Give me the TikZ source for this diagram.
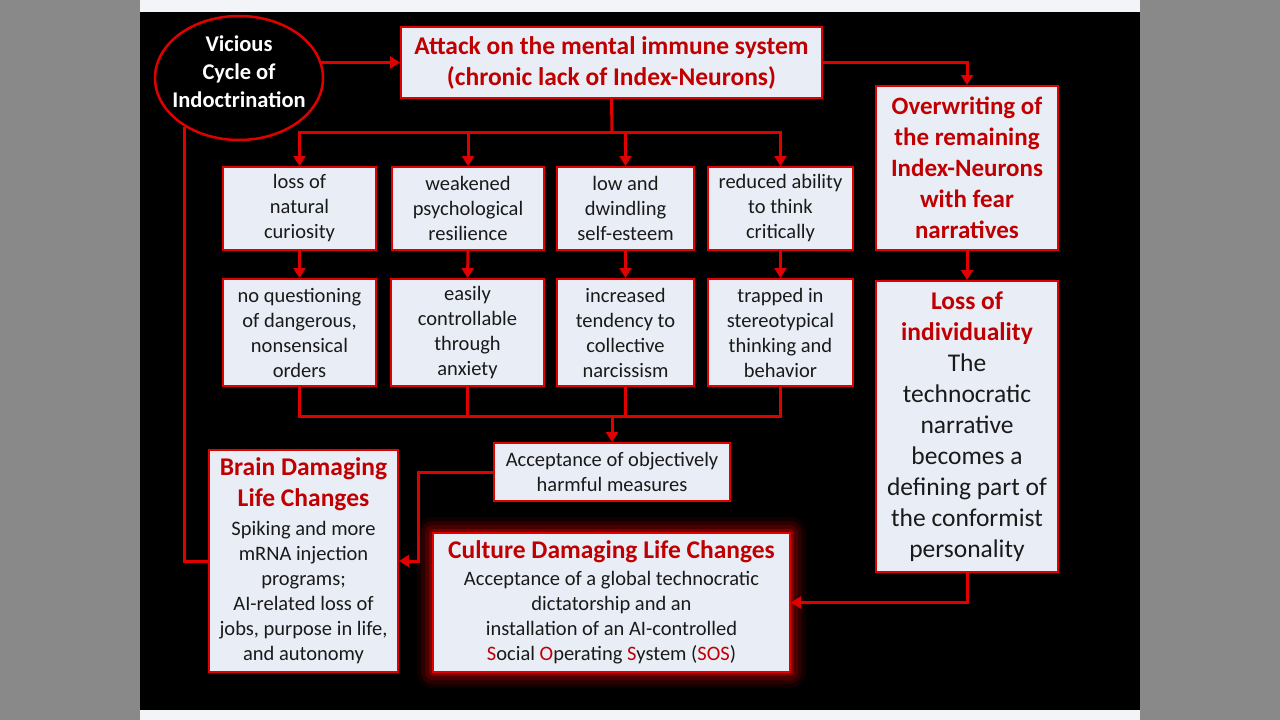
\documentclass[tikz,border=0pt]{standalone}
\usepackage{fontspec}
\setmainfont{Carlito}
\usetikzlibrary{arrows,arrows.meta,shapes.geometric,positioning}
\definecolor{dred}{HTML}{C00000}
\definecolor{linered}{HTML}{E00000}
\definecolor{boxfill}{HTML}{E9EEF6}
\definecolor{txtblack}{HTML}{1A1A1A}
\definecolor{bggray}{HTML}{898989}
\definecolor{stripwhite}{HTML}{F2F4F7}
\newcommand{\ttl}[1]{{\fontsize{25.5}{31}\selectfont\bfseries\color{dred}#1}}
\newcommand{\rd}[1]{\textcolor{dred}{#1}}

\begin{document}
\begin{tikzpicture}
[x=1pt,y=-1pt,
box/.style={draw=linered,fill=boxfill,line width=2pt,inner sep=0pt,align=center,text=txtblack,font=\fontsize{20.5}{25}\selectfont},
wire/.style={draw=linered,line width=3pt},
arr/.style={wire,-{Triangle[length=10pt,width=12pt]}}]
\fill[bggray] (0,0) rectangle (1280,720);
\fill[stripwhite] (140,0) rectangle (1140,720);
\fill[black] (140,12) rectangle (1140,710);

% glow round the culture box
\foreach \g/\o in {16/0.08,12/0.12,8/0.18,4/0.3}
  \fill[linered,opacity=\o,rounded corners=\g pt] (433-\g,533-\g) rectangle (790+\g,672+\g);

\node[ellipse,draw=linered,fill=black,line width=2.5pt,inner sep=0pt,minimum width=168,minimum height=124,
  label={[yshift=6,align=center,text=white,font=\fontsize{22.5}{28}\selectfont\bfseries]center:Vicious\\Cycle of\\Indoctrination}] (vic) at (239,78) {};
\node[box,minimum width=421,minimum height=71,text=dred,font=\fontsize{25.5}{31}\selectfont\bfseries] (att) at (611.5,62.5) {Attack on the mental immune system\\(chronic lack of Index-Neurons)};
\node[box,minimum width=182,minimum height=164,text=dred,font=\fontsize{25}{31}\selectfont\bfseries] (ovr) at (967,168) {Overwriting of\\the remaining\\Index-Neurons\\with fear\\narratives};
\node[box,minimum width=182,minimum height=291,font=\fontsize{25.5}{31}\selectfont] (los) at (967,426.5) {\ttl{Loss of}\\\ttl{individuality}\\The\\technocratic\\narrative\\becomes a\\defining part of\\the conformist\\personality};

\node[box,minimum width=153,minimum height=83] (r1a) at (299.5,208.5) {loss of\\natural\\curiosity};
\node[box,minimum width=152,minimum height=83] (r1b) at (468,208.5) {weakened\\psychological\\resilience};
\node[box,minimum width=137,minimum height=83] (r1c) at (625.5,208.5) {low and\\dwindling\\self-esteem};
\node[box,minimum width=145,minimum height=83] (r1d) at (780.5,208.5) {reduced ability\\to think\\critically};

\node[box,minimum width=153,minimum height=107] (r2a) at (299.5,332.5) {no questioning\\of dangerous,\\nonsensical\\orders};
\node[box,minimum width=153,minimum height=107] (r2b) at (467.5,332.5) {easily\\controllable\\through\\anxiety};
\node[box,minimum width=137,minimum height=107] (r2c) at (625.5,332.5) {increased\\tendency to\\collective\\narcissism};
\node[box,minimum width=145,minimum height=107] (r2d) at (780.5,332.5) {trapped in\\stereotypical\\thinking and\\behavior};

\node[box,minimum width=236,minimum height=58] (acc) at (612,472) {Acceptance of objectively\\harmful measures};
\node[box,minimum width=189,minimum height=222] (brn) at (303.5,561) {\ttl{Brain Damaging}\\[6pt]\ttl{Life Changes}\\[4pt]Spiking and more\\mRNA injection\\programs;\\AI-related loss of\\jobs, purpose in life,\\and autonomy};
\node[box,minimum width=357,minimum height=139] (cul) at (611.5,602.5) {\ttl{Culture Damaging Life Changes}\\[2pt]Acceptance of a global technocratic\\dictatorship and an\\installation of an AI-controlled\\\rd{S}ocial \rd{O}perating \rd{S}ystem (\rd{SOS})};

\coordinate (bus1) at (612,132);
\coordinate (bus2) at (612,416);
\coordinate (jog) at (418,472);

\draw[arr] ([xshift=-4]vic.east |- att.west) -- (att.west);
\draw[arr] (att.east) -| (ovr.north);
\draw[arr] (ovr.south) -- (los.north);
\draw[arr] (los.south) |- (cul.east);

\draw[wire] (att.south) -- (bus1);
\draw[wire,line cap=rect] (r1a.north |- bus1) -- (r1d.north |- bus1);
\foreach \n in {r1a,r1b,r1c,r1d}
  \draw[arr] (\n.north |- bus1) -- (\n.north);
\foreach \a/\b in {r1a/r2a,r1b/r2b,r1c/r2c,r1d/r2d}
  \draw[arr] (\a.south) -- (\b.north);
\foreach \n in {r2a,r2b,r2c,r2d}
  \draw[wire] (\n.south) -- (\n.south |- bus2);
\draw[wire,line cap=rect] (r2a.south |- bus2) -- (r2d.south |- bus2);
\draw[arr] (bus2) -- (acc.north);

\draw[arr] (acc.west) -- (jog) |- (brn.east);
\draw[wire] (brn.west) -| (vic.222);
\end{tikzpicture}
\end{document}
